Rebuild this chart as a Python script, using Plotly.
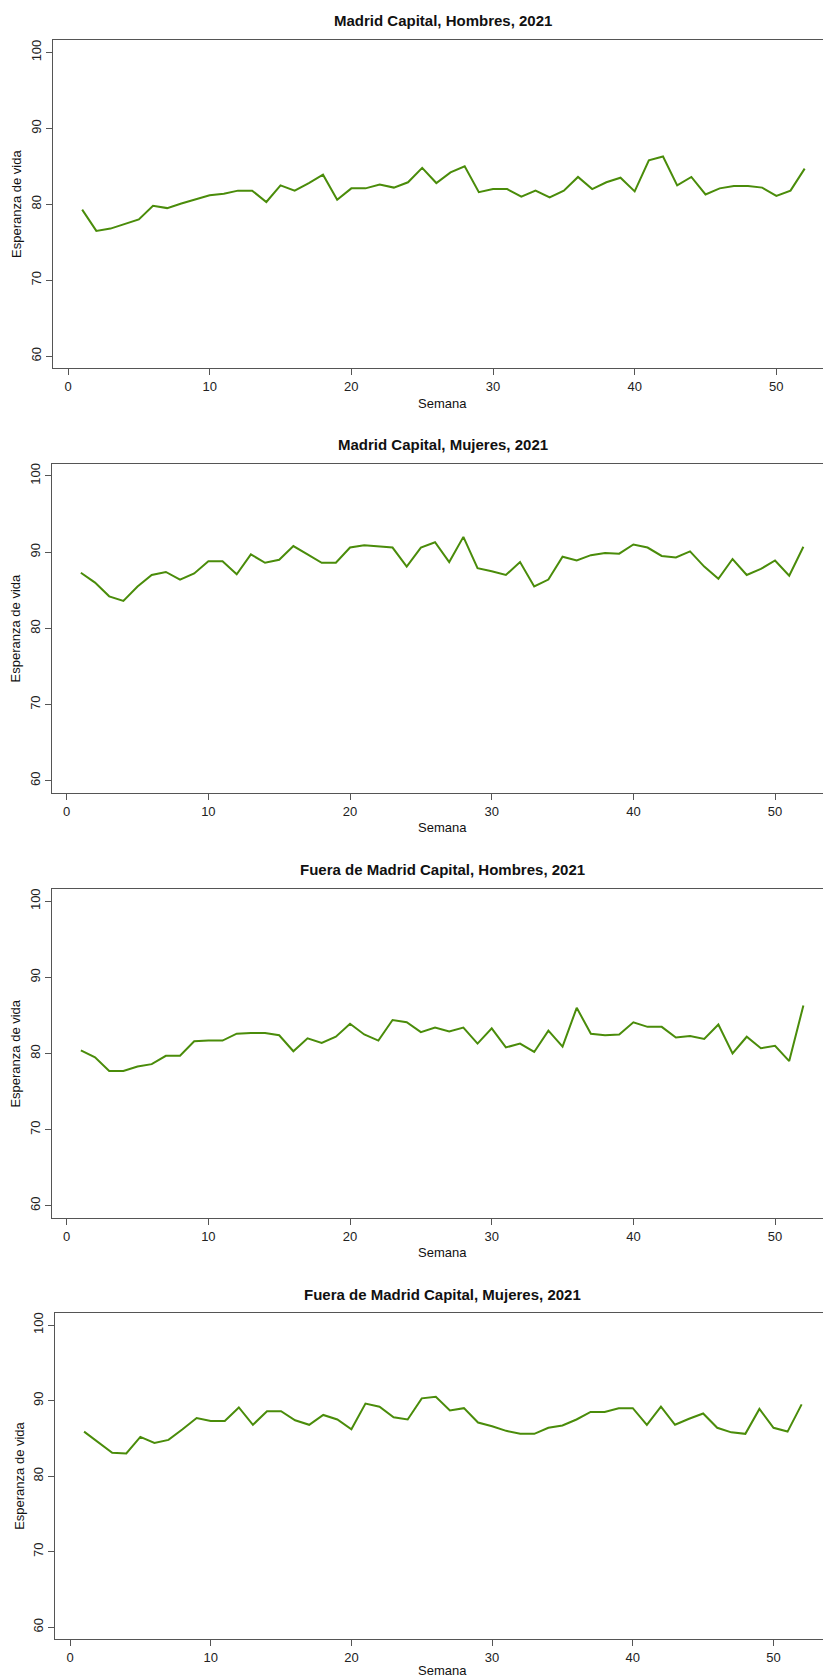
import plotly.graph_objects as go

# ---------------- data ----------------
semanas = list(range(1, 53))

madrid_hombres = [79.3, 76.5, 76.8, 77.4, 78.0, 79.8, 79.5, 80.1, 80.7, 81.2,
                  81.4, 81.8, 81.8, 80.3, 82.5, 81.8, 82.8, 83.9, 80.6, 82.1,
                  82.1, 82.6, 82.2, 82.9, 84.8, 82.8, 84.2, 85.0, 81.6, 82.0,
                  82.0, 81.0, 81.8, 80.9, 81.8, 83.6, 82.0, 82.9, 83.5, 81.7,
                  85.8, 86.3, 82.5, 83.6, 81.3, 82.1, 82.4, 82.4, 82.2, 81.1,
                  81.8, 84.7]

madrid_mujeres = [87.3, 86.0, 84.2, 83.6, 85.5, 87.0, 87.4, 86.4, 87.2, 88.8,
                  88.8, 87.1, 89.7, 88.6, 89.0, 90.8, 89.7, 88.6, 88.6, 90.6,
                  90.9, 90.8, 90.6, 88.1, 90.6, 91.3, 88.7, 92.0, 87.9, 87.5,
                  87.0, 88.7, 85.5, 86.4, 89.4, 88.9, 89.6, 89.9, 89.8, 91.0,
                  90.6, 89.5, 89.3, 90.1, 88.1, 86.5, 89.1, 87.0, 87.8, 88.9,
                  86.9, 90.7]

fuera_hombres = [80.4, 79.5, 77.7, 77.7, 78.3, 78.6, 79.7, 79.7, 81.6, 81.7,
                 81.7, 82.6, 82.7, 82.7, 82.4, 80.3, 82.0, 81.4, 82.2, 83.9,
                 82.5, 81.7, 84.4, 84.1, 82.8, 83.4, 82.9, 83.4, 81.3, 83.3,
                 80.8, 81.3, 80.2, 83.0, 80.9, 86.0, 82.6, 82.4, 82.5, 84.1,
                 83.5, 83.5, 82.1, 82.3, 81.9, 83.8, 80.0, 82.2, 80.7, 81.0,
                 79.0, 86.3]

fuera_mujeres = [85.9, 84.5, 83.1, 83.0, 85.2, 84.4, 84.8, 86.2, 87.7, 87.3,
                 87.3, 89.1, 86.8, 88.6, 88.6, 87.4, 86.8, 88.1, 87.5, 86.2,
                 89.6, 89.2, 87.8, 87.5, 90.3, 90.5, 88.7, 89.0, 87.1, 86.6,
                 86.0, 85.6, 85.6, 86.4, 86.7, 87.5, 88.5, 88.5, 89.0, 89.0,
                 86.8, 89.2, 86.8, 87.6, 88.3, 86.4, 85.8, 85.6, 88.9, 86.4,
                 85.9, 89.5]

titulos = ["Madrid Capital, Hombres, 2021",
           "Madrid Capital, Mujeres, 2021",
           "Fuera de Madrid Capital, Hombres, 2021",
           "Fuera de Madrid Capital, Mujeres, 2021"]
series = [madrid_hombres, madrid_mujeres, fuera_hombres, fuera_mujeres]

x_ticks = [0, 10, 20, 30, 40, 50]
y_ticks = [60, 70, 80, 90, 100]
y_range = [58.4, 101.6]

x_label = "Semana"
y_label = "Esperanza de vida"

# ---------------- layout geometry (screen pixels) ----------------
SCREEN_W, SCREEN_H = 823, 1680
OFF = 0                      # body margin removed by the post script below
FW, FH = SCREEN_W - OFF, SCREEN_H - OFF


def px(xs):
    return (xs - OFF) / FW


def py(ys):
    return 1 - (ys - OFF) / FH


geom = [
    dict(left=53.3, top=40.3, bottom=368.3, x0=68.0, ppu=14.167, title_y=21.0, xlab_y=403.0),
    dict(left=51.7, top=463.7, bottom=793.0, x0=66.7, ppu=14.167, title_y=444.3, xlab_y=827.3),
    dict(left=51.7, top=889.0, bottom=1218.0, x0=66.7, ppu=14.167, title_y=869.3, xlab_y=1252.7),
    dict(left=55.3, top=1313.0, bottom=1639.3, x0=70.0, ppu=14.07, title_y=1294.0, xlab_y=1673.3),
]
center_x = 442.5

FONT = "Liberation Sans, Arial, sans-serif"
LINE_COLOR = "#4A8C0A"
AXIS_COLOR = "#555555"

fig = go.Figure()
annotations = []
layout = dict(
    width=FW, height=FH, autosize=False,
    margin=dict(l=0, r=0, t=0, b=0, pad=0),
    paper_bgcolor="white", plot_bgcolor="white",
    showlegend=False,
    font=dict(family=FONT, size=13, color="#222222"),
)

for i, (g, vals, tit) in enumerate(zip(geom, series, titulos), start=1):
    xa = "x" if i == 1 else f"x{i}"
    ya = "y" if i == 1 else f"y{i}"
    fig.add_trace(go.Scatter(
        x=semanas, y=vals, mode="lines",
        line=dict(color=LINE_COLOR, width=2),
        xaxis=xa, yaxis=ya, hoverinfo="skip"))

    x_rng = [(g["left"] - g["x0"]) / g["ppu"], (SCREEN_W - g["x0"]) / g["ppu"]]
    xdom = [px(g["left"]), 1.0]
    ydom = [py(g["bottom"]), py(g["top"])]

    layout["xaxis" if i == 1 else f"xaxis{i}"] = dict(
        domain=xdom, range=x_rng, anchor=ya,
        tickmode="array", tickvals=x_ticks,
        ticks="outside", ticklen=6, tickwidth=1, tickcolor=AXIS_COLOR,
        showline=True, linecolor=AXIS_COLOR, linewidth=1, mirror=True,
        showgrid=False, zeroline=False,
        tickfont=dict(family=FONT, size=13, color="#222222"),
    )
    layout["yaxis" if i == 1 else f"yaxis{i}"] = dict(
        domain=ydom, range=y_range, anchor=xa,
        tickmode="array", tickvals=y_ticks, tickangle=-90,
        ticks="outside", ticklen=6, tickwidth=1, tickcolor=AXIS_COLOR,
        showline=True, linecolor=AXIS_COLOR, linewidth=1, mirror=False,
        showgrid=False, zeroline=False,
        tickfont=dict(family=FONT, size=13, color="#222222"),
    )

    annotations.append(dict(
        text=f"<b>{tit}</b>", x=px(center_x), y=py(g["title_y"]),
        xref="paper", yref="paper", xanchor="center", yanchor="middle",
        showarrow=False, font=dict(family=FONT, size=15, color="#111111")))
    if g["xlab_y"] + 8 > SCREEN_H:
        xlab_pos, xlab_anchor = 0.0, "bottom"
    else:
        xlab_pos, xlab_anchor = py(g["xlab_y"]), "middle"
    annotations.append(dict(
        text=x_label, x=px(center_x), y=xlab_pos,
        xref="paper", yref="paper", xanchor="center", yanchor=xlab_anchor,
        showarrow=False, font=dict(family=FONT, size=13, color="#111111")))
    annotations.append(dict(
        text=y_label, x=px(g["left"] - 36.6),
        y=py((g["top"] + g["bottom"]) / 2),
        xref="paper", yref="paper", xanchor="center", yanchor="middle",
        textangle=-90, showarrow=False,
        font=dict(family=FONT, size=13, color="#111111")))

layout["annotations"] = annotations
fig.update_layout(**layout)

fig.write_html(
    "out.html",
    config={"displayModeBar": False, "staticPlot": True},
    post_script=("document.body.style.margin='0';"
                 "document.documentElement.style.overflow='hidden';"
                 "document.body.style.overflow='hidden';"),
)
